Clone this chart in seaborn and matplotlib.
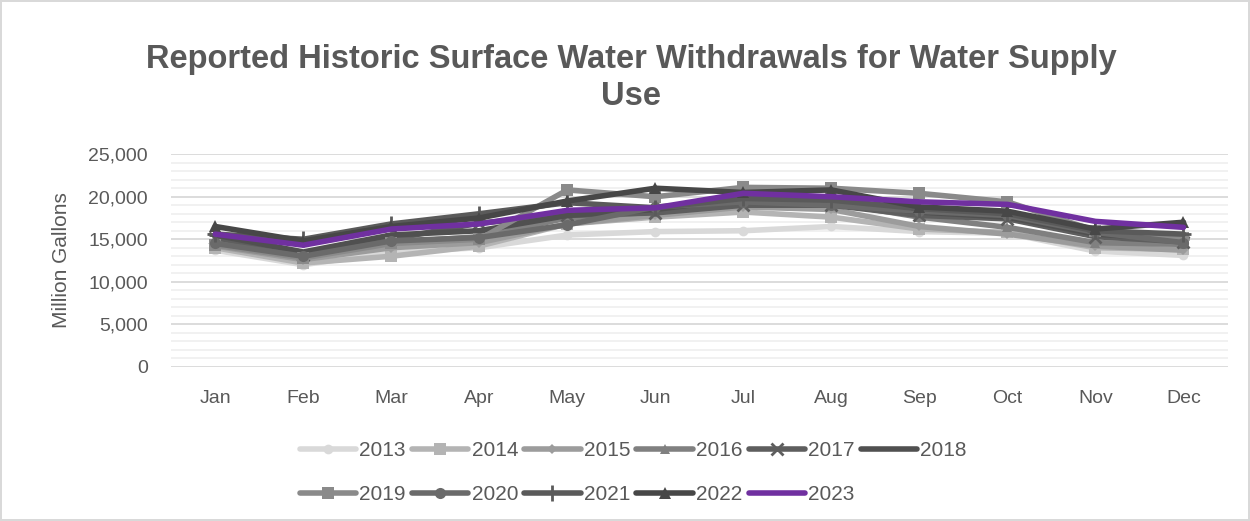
import numpy as np
import pandas as pd
import seaborn as sns
import matplotlib.pyplot as plt
from matplotlib.ticker import MultipleLocator, FuncFormatter

months = ['Jan', 'Feb', 'Mar', 'Apr', 'May', 'Jun', 'Jul', 'Aug', 'Sep', 'Oct', 'Nov', 'Dec']
years = ['2013', '2014', '2015', '2016', '2017', '2018', '2019', '2020', '2021', '2022', '2023']

# monthly withdrawals, million gallons
w2013 = [13700, 12000, 13500, 14000, 15500, 15900, 16000, 16500, 15900, 15700, 13600, 13100]
w2014 = [14000, 12200, 13000, 14200, 16800, 17600, 18200, 17600, 16200, 15800, 14000, 13800]
w2015 = [14200, 12600, 14000, 14600, 16800, 17800, 18800, 18500, 16500, 15600, 14200, 13700]
w2016 = [14600, 13000, 14600, 15300, 17500, 18200, 19500, 19300, 17600, 16400, 14600, 14400]
w2017 = [15200, 13200, 15000, 16900, 17800, 18100, 19000, 19000, 17800, 17400, 15300, 14700]
w2018 = [15500, 13500, 15500, 16000, 17800, 18500, 19800, 19500, 18200, 17600, 15600, 15000]
w2019 = [14300, 12800, 14500, 15000, 20800, 20000, 21100, 21000, 20400, 19400, 16000, 15200]
w2020 = [14500, 13000, 14800, 15200, 16700, 18800, 19400, 19000, 18300, 17800, 15800, 14600]
w2021 = [15600, 15000, 16800, 18000, 19300, 18700, 19800, 19600, 18600, 18000, 16000, 15600]
w2022 = [16500, 14800, 16500, 17500, 19500, 21000, 20500, 20800, 18800, 18300, 16200, 17000]
w2023 = [15600, 14300, 16200, 16800, 18400, 18700, 20400, 20000, 19400, 19100, 17100, 16400]

series = [w2013, w2014, w2015, w2016, w2017, w2018, w2019, w2020, w2021, w2022, w2023]

colors = ['#d9d9d9', '#b4b4b4', '#9c9c9c', '#808080', '#5e5e5e', '#505050',
          '#8a8a8a', '#6a6a6a', '#5a5a5a', '#474747', '#7030a0']
markers = ['o', 's', 'D', '^', 'x', '_', 's', 'o', '+', '^', None]
msizes = [7, 8, 5, 7, 9, 8, 9, 8, 11, 8, 0]

df = pd.DataFrame({
    'year': np.repeat(years, len(months)),
    'month': months * len(years),
    'value': np.concatenate(series),
})

sns.set_style('white')
plt.rcParams['font.family'] = ['Liberation Sans', 'DejaVu Sans']
txt = '#595959'

fig = plt.figure(figsize=(12.5, 5.21), dpi=100, edgecolor='#d9d9d9', linewidth=1.5)
ax = fig.add_axes([0.137, 0.296, 0.845, 0.408])

for yr, c, m, ms in zip(years, colors, markers, msizes):
    sub = df[df['year'] == yr]
    sns.lineplot(data=sub, x='month', y='value', ax=ax, color=c, lw=4,
                 marker=m, markersize=ms, markeredgecolor=c,
                 markeredgewidth=2 if m in ('x', '+', '_') else 0,
                 label=yr, sort=False)

ax.set_xlim(-0.5, 11.5)
ax.set_ylim(0, 25000)
ax.yaxis.set_major_locator(MultipleLocator(5000))
ax.yaxis.set_minor_locator(MultipleLocator(1000))
ax.yaxis.set_major_formatter(FuncFormatter(lambda v, p: f'{int(v):,}'))
ax.grid(which='major', axis='y', color='#d9d9d9', lw=1.3)
ax.grid(which='minor', axis='y', color='#f0f0f0', lw=1.3)
ax.set_axisbelow(True)
for s in ax.spines.values():
    s.set_visible(False)
ax.tick_params(axis='both', which='both', length=0, colors=txt, labelsize=14)
ax.tick_params(axis='x', pad=17)
ax.tick_params(axis='y', pad=17)
ax.set_xlabel('')
ax.set_ylabel('Million Gallons', color=txt, fontsize=15, labelpad=12)

fig.text(0.505, 0.851, 'Reported Historic Surface Water Withdrawals for Water Supply\nUse',
         ha='center', va='center', fontsize=23.5, fontweight='bold', color=txt, linespacing=1.25)

handles, labels = ax.get_legend_handles_labels()
order = [0, 6, 1, 7, 2, 8, 3, 9, 4, 10, 5]
leg = ax.legend([handles[i] for i in order], [labels[i] for i in order],
                ncol=6, loc='upper center', bbox_to_anchor=(0.4375, -0.3), frameon=False,
                fontsize=15, handlelength=2.7, handletextpad=0.15, columnspacing=0.3,
                labelspacing=1.2, labelcolor=txt, borderpad=0)

fig.savefig('out.png', dpi=100)
